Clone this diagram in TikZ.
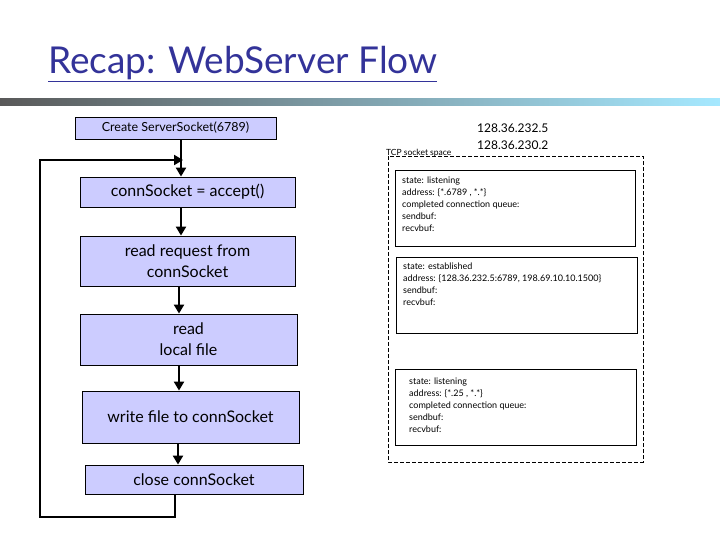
\documentclass[tikz,border=0pt]{standalone}
\usepackage{fontspec}
\setmainfont{Lato}
\usetikzlibrary{arrows.meta}
\definecolor{boxfill}{RGB}{204,204,255}
\definecolor{titleblue}{RGB}{51,51,153}
\begin{document}
\begin{tikzpicture}[x=1pt,y=-1pt,
  flowbox/.style={draw=black,fill=boxfill,line width=0.8pt,align=center,inner sep=0pt,font=\fontsize{16}{21}\selectfont},
  sock/.style={draw=black,line width=0.6pt},
  small/.style={font=\fontsize{9}{11.8}\selectfont,align=left,anchor=north west,inner sep=0pt},
  flow/.style={line width=2pt,-{Triangle[length=9pt,width=10pt]}}]
\useasboundingbox (0,0) rectangle (720,540);
\node[anchor=south west,inner sep=0pt,text=titleblue,font=\fontsize{37}{40}\selectfont] (title) at (48,82) {\underline{Recap: WebServer Flow}};
\shade[left color=black!65,right color=blue!25!cyan!35] (0,99) rectangle (720,106);
% flow boxes
\node[flowbox,minimum width=201pt,minimum height=22pt,font=\fontsize{12.5}{14}\selectfont] (create) at (175.5,128) {Create ServerSocket(6789)};
\node[flowbox,minimum width=215pt,minimum height=30pt] (accept) at (187.5,192) {connSocket = accept()};
\node[flowbox,minimum width=215pt,minimum height=50pt] (readreq) at (187.5,261) {read request from\\connSocket};
\node[flowbox,minimum width=217pt,minimum height=51pt] (readfile) at (188.5,339.5) {read\\local file};
\node[flowbox,minimum width=217pt,minimum height=52pt] (write) at (190.5,417) {write file to connSocket};
\node[flowbox,minimum width=218pt,minimum height=29pt] (close) at (194,479.5) {close connSocket};
\draw[flow] (create.south -| 181,0) -- (accept.north -| 181,0);
\draw[flow] (accept.south -| 181,0) -- (readreq.north -| 181,0);
\draw[flow] (readreq.south -| 179,0) -- (readfile.north -| 179,0);
\draw[flow] (readfile.south -| 179,0) -- (write.north -| 179,0);
\draw[flow] (write.south -| 178,0) -- (close.north -| 178,0);
\coordinate (l1) at (175,517);
\coordinate (l2) at (40,517);
\coordinate (l3) at (40,160);
\coordinate (l4) at (183,160);
\draw[flow] (close.south -| l1) -- (l1) -- (l2) -- (l3) -- (l4);
% socket space
\node[anchor=south west,inner sep=0pt,font=\fontsize{8.5}{10}\selectfont] (tcp) at (386,157) {TCP socket space};
\node[anchor=west,inner sep=0pt,font=\fontsize{12}{14}\selectfont] (ip1) at (477,128) {128.36.232.5};
\node[anchor=west,inner sep=0pt,font=\fontsize{12}{14}\selectfont] (ip2) at (477,145) {128.36.230.2};
\draw[line width=0.6pt,dash pattern=on 4pt off 2pt] (388,156) rectangle (643,462);
\draw[sock] (395,170) rectangle (635,246);
\draw[sock] (396,257) rectangle (637,333);
\draw[sock] (395,369) rectangle (636,445);
\node[small] (s1) at (402,177) {state: listening\\address: \{*.6789 , *.*\}\\completed connection queue:\\sendbuf:\\recvbuf:};
\node[small] (s2) at (403,263) {state: established\\address: \{128.36.232.5:6789, 198.69.10.10.1500\}\\sendbuf:\\recvbuf:};
\node[small] (s3) at (409,378) {state: listening\\address: \{*.25 , *.*\}\\completed connection queue:\\sendbuf:\\recvbuf:};
\end{tikzpicture}
\end{document}
